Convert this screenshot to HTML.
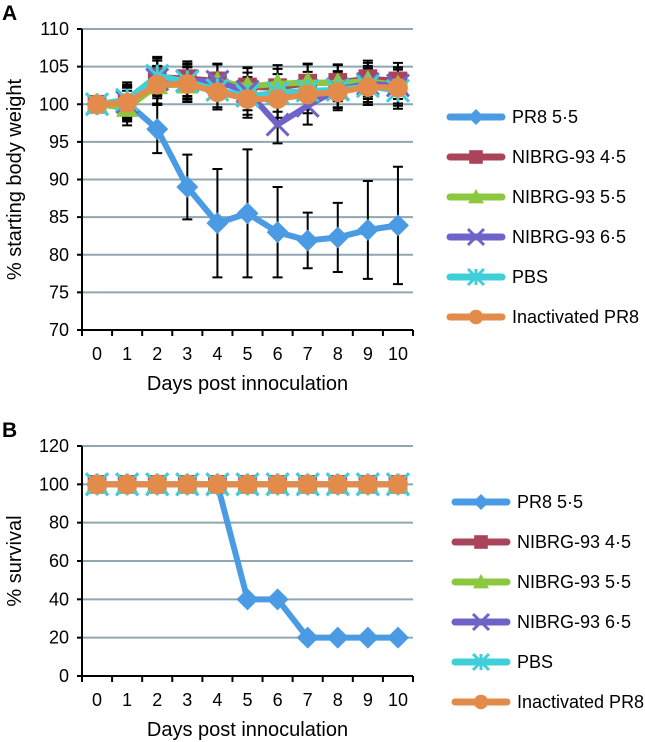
<!DOCTYPE html>
<html><head><meta charset="utf-8"><style>
body{margin:0;background:#fff;}
svg{display:block;font-family:"Liberation Sans",sans-serif;}
</style></head><body>
<svg id="c" width="645" height="742"></svg>
<script>
const days=[0,1,2,3,4,5,6,7,8,9,10];
const seriesNames=["PR8 5·5","NIBRG-93 4·5","NIBRG-93 5·5","NIBRG-93 6·5","PBS","Inactivated PR8"];
const colors=["#4a9be3","#a9445a","#8cc83f","#6e63c8","#3fcfd8","#e38b4a"];
const markers=["diamond","square","triangle","x","star","circle"];
const wPR8=[100,100.2,96.7,89,84.2,85.5,83,81.9,82.3,83.3,83.9];
const wN45=[100,100,103.6,103.4,103.1,102.3,102.2,102.8,102.9,103.4,103.1];
const wN55=[100,99.5,102.5,102.6,103,102.4,102.7,102.9,102.8,103.1,102.5];
const wN65=[100,100.3,103.3,103.1,103,101.7,97.3,99.8,102,102.7,102.5];
const wPBS=[100,100.6,103.8,103,101.9,101.1,101.5,101.8,101.9,102.4,101.8];
const wIna=[100,100.2,102.6,102.7,101.6,100.7,100.7,101.3,101.6,102.3,102.2];
const errPR8=[0,2,3.2,4.3,7.2,8.5,6,3.7,4.6,6.5,7.8];
const errOther=[0,2.3,2.5,2.3,2.3,2.5,2.5,2.5,2.4,2.4,2.4];
const sPR8=[100,100,100,100,100,40,40,20,20,20,20];
const sN45=[100,100,100,100,100,100,100,100,100,100,100];
const sN55=[100,100,100,100,100,100,100,100,100,100,100];
const sN65=[100,100,100,100,100,100,100,100,100,100,100];
const sPBS=[100,100,100,100,100,100,100,100,100,100,100];
const sIna=[100,100,100,100,100,100,100,100,100,100,100];
const ticksA=[70,75,80,85,90,95,100,105,110];
const ticksB=[0,20,40,60,80,100,120];

const svg=document.getElementById('c');
const NS="http://www.w3.org/2000/svg";
function mk(t,a,p){const e=document.createElementNS(NS,t);for(const k in a)e.setAttribute(k,a[k]);(p||svg).appendChild(e);return e;}
function marker(g,type,x,y,col,s){
  let e;
  if(type==="diamond")e=mk('polygon',{points:`${x},${y-s} ${x+s},${y} ${x},${y+s} ${x-s},${y}`,fill:col},g);
  else if(type==="square")e=mk('rect',{x:x-s*0.85,y:y-s*0.85,width:s*1.7,height:s*1.7,fill:col},g);
  else if(type==="triangle")e=mk('polygon',{points:`${x},${y-s} ${x+s},${y+s*0.8} ${x-s},${y+s*0.8}`,fill:col},g);
  else if(type==="x")e=mk('path',{d:`M${x-s} ${y-s}L${x+s} ${y+s}M${x-s} ${y+s}L${x+s} ${y-s}`,stroke:col,'stroke-width':3},g);
  else if(type==="star")e=mk('path',{d:`M${x-s} ${y-s}L${x+s} ${y+s}M${x-s} ${y+s}L${x+s} ${y-s}M${x} ${y-s}L${x} ${y+s}`,stroke:col,'stroke-width':3},g);
  else e=mk('circle',{cx:x,cy:y,r:s*0.9,fill:col},g);
  return e;
}
function chart(o){
  const g=mk('g',{});
  
  
  const L=82,R=413,T=o.top,B=o.bottom;
  const xs=i=>L+(R-L)/days.length*(i+0.5);
  const ys=v=>B-(v-o.min)/(o.max-o.min)*(B-T);
  o.ticks.forEach(t=>{
    if(t!==o.min){const gl=mk('line',{x1:L,x2:R,y1:ys(t),y2:ys(t),stroke:'#8fa7ae','stroke-width':2},g);
    }
    mk('line',{x1:L-5,x2:L,y1:ys(t),y2:ys(t),stroke:'#000','stroke-width':2},g);
    const tl=mk('text',{x:L-13,y:ys(t)+6,'text-anchor':'end','font-size':18},g);tl.textContent=t;
    
  });
  mk('line',{x1:L,x2:L,y1:T,y2:B,stroke:'#000','stroke-width':2},g);
  mk('line',{x1:L,x2:R,y1:B,y2:B,stroke:'#000','stroke-width':2},g);
  for(let i=0;i<=days.length;i++){const x=L+(R-L)/days.length*i;mk('line',{x1:x,x2:x,y1:B,y2:B+6,stroke:'#000','stroke-width':2},g);}
  days.forEach((d,i)=>{const t=mk('text',{x:xs(i),y:B+30,'text-anchor':'middle','font-size':18},g);t.textContent=d;
    });
  const xt=mk('text',{x:(L+R)/2,y:B+60,'text-anchor':'middle','font-size':20},g);xt.textContent="Days post innoculation";
  
  const yt=mk('text',{x:0,y:0,'text-anchor':'middle','font-size':20,transform:`translate(${o.yTitleX},${(T+B)/2}) rotate(-90)`},g);yt.textContent=o.ytitle;
  
  const pl=mk('text',{x:2,y:o.labelY,'font-size':21,'font-weight':'bold'},g);pl.textContent=o.label;
  
  if(o.errs){o.errs.forEach((er,si)=>{const vals=o.series[si];vals.forEach((v,i)=>{if(er[i]<=0)return;
    const x=xs(i);const eb=mk('path',{d:`M${x} ${ys(v-er[i])}L${x} ${ys(v+er[i])}M${x-5} ${ys(v-er[i])}L${x+5} ${ys(v-er[i])}M${x-5} ${ys(v+er[i])}L${x+5} ${ys(v+er[i])}`,stroke:'#000','stroke-width':2,fill:'none'},g);
    });});}
  o.order.forEach(si=>{
    const vals=o.series[si];
    const sg=mk('g',{},g);
    
    
    mk('polyline',{points:vals.map((v,i)=>xs(i)+','+ys(v)).join(' '),fill:'none',stroke:colors[si],'stroke-width':6,'stroke-linejoin':'round'},sg);
    vals.forEach((v,i)=>{const m=marker(sg,markers[si],xs(i),ys(v),colors[si],11);
      });
  });
  seriesNames.forEach((n,si)=>{
    const y=o.legTop+si*40;
    const lg=mk('g',{},g);
    
    
    mk('line',{x1:o.legX,x2:o.legX+52,y1:y,y2:y,stroke:colors[si],'stroke-width':7,'stroke-linecap':'round'},lg);
    marker(lg,markers[si],o.legX+26,y,colors[si],8);
    const t=mk('text',{x:o.legX+62,y:y+6,'font-size':18},lg);t.textContent=n;
  });
}
chart({name:'weight-chart',top:29,bottom:330,min:70,max:110,ticks:ticksA,series:[wPR8,wN45,wN55,wN65,wPBS,wIna],
  errs:[errPR8,errOther,errOther,errOther,errOther,errOther],order:[0,1,2,3,4,5],
  ytitle:"% starting body weight",yTitleX:21,label:"A",labelY:20,legX:450,legTop:117});
chart({name:'survival-chart',top:446,bottom:676,min:0,max:120,ticks:ticksB,series:[sPR8,sN45,sN55,sN65,sPBS,sIna],
  order:[0,1,2,3,4,5],ytitle:"% survival",yTitleX:21,label:"B",labelY:437,legX:455,legTop:502});
</script>
</body></html>
